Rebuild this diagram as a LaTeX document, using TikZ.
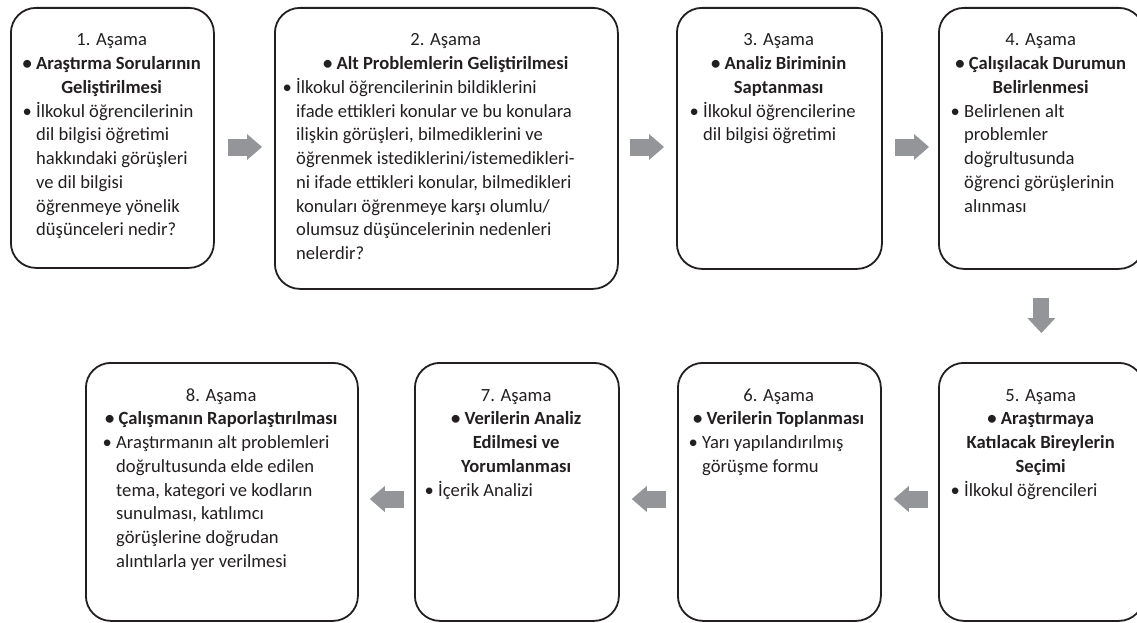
\documentclass[tikz,border=0pt]{standalone}
\usepackage{fontspec}
\setmainfont{Carlito}
\usetikzlibrary{calc,arrows.meta}
\definecolor{ink}{HTML}{231F20}
\definecolor{arrowgray}{HTML}{939598}
\newcommand\cl[1]{\hbox to\linewidth{\hss#1\hss}}
\newcommand\bl[1]{\hbox{\makebox[11pt][l]{\kern-2.5pt•}#1}}
\newcommand\il[1]{\hbox{\hspace*{11pt}#1}}
\begin{document}
\begin{tikzpicture}[x=1pt,y=-1pt,
  stage/.style={draw=ink, line width=1.8pt, rounded corners=25pt, inner sep=0pt, anchor=north west},
  txt/.style={anchor=base west, inner sep=0pt, text=ink, font=\fontsize{18.6}{23.75}\selectfont},
  conn/.style={draw=arrowgray, line width=17pt, -{Triangle[length=15pt,width=26pt,line width=0pt]}}
]
\useasboundingbox (0,0) rectangle (1137,623);
\coordinate (rowA) at (0,147);
\coordinate (rowB) at (0,499);

% boxes
\node[stage, minimum width=203pt, minimum height=260pt] (b1) at (10,7) {};
\node[stage, minimum width=343pt, minimum height=281pt] (b2) at (274,7) {};
\node[stage, minimum width=205pt, minimum height=261pt] (b3) at (676,7) {};
\node[stage, minimum width=205pt, minimum height=261pt] (b4) at (938,7) {};
\node[stage, minimum width=205pt, minimum height=258pt] (b5) at (938,362) {};
\node[stage, minimum width=203pt, minimum height=258pt] (b6) at (677,362) {};
\node[stage, minimum width=204pt, minimum height=258pt] (b7) at (414,362) {};
\node[stage, minimum width=272pt, minimum height=258pt] (b8) at (85,362) {};

% texts
\node[txt] (t1) at ($(b1.north west)+(15,39)$) {\begin{minipage}[t]{173pt}
\cl{1. Aşama}
\cl{\textbf{• Araştırma Sorularının}}
\cl{\textbf{Geliştirilmesi}}
\bl{İlkokul öğrencilerinin}
\il{dil bilgisi öğretimi}
\il{hakkındaki görüşleri}
\il{ve dil bilgisi}
\il{öğrenmeye yönelik}
\il{düşünceleri nedir?}
\end{minipage}};

\node[txt] (t2) at ($(b2.north west)+(11,39)$) {\begin{minipage}[t]{321pt}
\cl{2. Aşama}
\cl{\textbf{• Alt Problemlerin Geliştirilmesi}}
\bl{İlkokul öğrencilerinin bildiklerini}
\il{ifade ettikleri konular ve bu konulara}
\il{ilişkin görüşleri, bilmediklerini ve}
\il{öğrenmek istediklerini/istemedikleri-}
\il{ni ifade ettikleri konular, bilmedikleri}
\il{konuları öğrenmeye karşı olumlu/}
\il{olumsuz düşüncelerinin nedenleri}
\il{nelerdir?}
\end{minipage}};

\node[txt] (t3) at ($(b3.north west)+(16,39)$) {\begin{minipage}[t]{173pt}
\cl{3. Aşama}
\cl{\textbf{• Analiz Biriminin}}
\cl{\textbf{Saptanması}}
\bl{İlkokul öğrencilerine}
\il{dil bilgisi öğretimi}
\end{minipage}};

\node[txt] (t4) at ($(b4.north west)+(15,39)$) {\begin{minipage}[t]{175pt}
\cl{4. Aşama}
\cl{\textbf{• Çalışılacak Durumun}}
\cl{\textbf{Belirlenmesi}}
\bl{Belirlenen alt}
\il{problemler}
\il{doğrultusunda}
\il{öğrenci görüşlerinin}
\il{alınması}
\end{minipage}};

\node[txt] (t5) at ($(b5.north west)+(15,39)$) {\begin{minipage}[t]{175pt}
\cl{5. Aşama}
\cl{\textbf{• Araştırmaya}}
\cl{\textbf{Katılacak Bireylerin}}
\cl{\textbf{Seçimi}}
\bl{İlkokul öğrencileri}
\end{minipage}};

\node[txt] (t6) at ($(b6.north west)+(14,39)$) {\begin{minipage}[t]{175pt}
\cl{6. Aşama}
\cl{\textbf{• Verilerin Toplanması}}
\bl{Yarı yapılandırılmış}
\il{görüşme formu}
\end{minipage}};

\node[txt] (t7) at ($(b7.north west)+(13,39)$) {\begin{minipage}[t]{178pt}
\cl{7. Aşama}
\cl{\textbf{• Verilerin Analiz}}
\cl{\textbf{Edilmesi ve}}
\cl{\textbf{Yorumlanması}}
\bl{İçerik Analizi}
\end{minipage}};

\node[txt] (t8) at ($(b8.north west)+(20,39)$) {\begin{minipage}[t]{232pt}
\cl{8. Aşama}
\cl{\textbf{• Çalışmanın Raporlaştırılması}}
\bl{Araştırmanın alt problemleri}
\il{doğrultusunda elde edilen}
\il{tema, kategori ve kodların}
\il{sunulması, katılımcı}
\il{görüşlerine doğrudan}
\il{alıntılarla yer verilmesi}
\end{minipage}};

% connectors
\draw[conn] ($(b1.east |- rowA)+(13,0)$) -- ($(b2.west |- rowA)+(-12,0)$);
\draw[conn] ($(b2.east |- rowA)+(11,0)$) -- ($(b3.west |- rowA)+(-12,0)$);
\draw[conn] ($(b3.east |- rowA)+(12,0)$) -- ($(b4.west |- rowA)+(-9,0)$);
\draw[conn, line width=16pt, -{Triangle[length=15pt,width=28pt,line width=0pt]}] ($(b4.south)+(0,28)$) -- ($(b5.north)+(0,-29)$);
\draw[conn] ($(b5.west |- rowB)+(-10,0)$) -- ($(b6.east |- rowB)+(12,0)$);
\draw[conn] ($(b6.west |- rowB)+(-11,0)$) -- ($(b7.east |- rowB)+(12,0)$);
\draw[conn] ($(b7.west |- rowB)+(-10,0)$) -- ($(b8.east |- rowB)+(11,0)$);
\end{tikzpicture}
\end{document}
